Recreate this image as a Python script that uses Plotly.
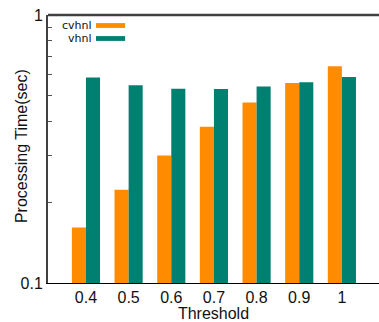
import plotly.graph_objects as go

thresholds = ["0.4", "0.5", "0.6", "0.7", "0.8", "0.9", "1"]
cvhnl = [0.161, 0.223, 0.299, 0.383, 0.472, 0.558, 0.644]
vhnl = [0.585, 0.547, 0.531, 0.530, 0.541, 0.561, 0.587]
series_names = ["cvhnl", "vhnl"]
colors = ["#FF8C00", "#008070"]
minor_ticks = [0.2, 0.3, 0.4, 0.5, 0.6, 0.7, 0.8, 0.9]

font = "Liberation Sans, Arial, sans-serif"

fig = go.Figure()
for name, vals, c in zip(series_names, [cvhnl, vhnl], colors):
    fig.add_trace(go.Bar(x=thresholds, y=vals, name=name, marker=dict(color=c, line=dict(width=0)),
                         showlegend=False))

fig.update_layout(
    width=379, height=322,
    margin=dict(l=48, r=0, t=15, b=39),
    paper_bgcolor="white", plot_bgcolor="white",
    barmode="group", bargap=0.34, bargroupgap=0,
    font=dict(family=font, size=16, color="#111"),
    xaxis=dict(type="category", range=[-0.89, 6.87], showline=True, linecolor="black", linewidth=1.3,
               ticks="", showgrid=False, zeroline=False,
               title=dict(text="Threshold", font=dict(size=16), standoff=2),
               tickfont=dict(size=16)),
    yaxis=dict(type="log", range=[-1, 0], showline=True, linecolor="#404040", linewidth=2,
               tickvals=[0.1, 1], ticktext=["0.1", "1"], ticks="", showgrid=False, zeroline=False,
               minor=dict(tickvals=minor_ticks, ticks="inside", ticklen=4, tickcolor="#555", tickwidth=1, showgrid=False),
               tickfont=dict(size=16)),
)

# y-axis title placed close to the axis, as in the reference
fig.add_annotation(xref="paper", yref="paper", x=-0.080, y=0.509, text="Processing Time(sec)",
                   textangle=-90, showarrow=False, xanchor="center", yanchor="middle",
                   font=dict(size=16, color="#111", family=font))

# top frame line
fig.add_shape(type="line", xref="paper", yref="paper", x0=0, x1=1, y0=1, y1=1,
              line=dict(color="#404040", width=2.5))

# legend (text left of swatch)
leg_y = [0.9608, 0.9123]
for name, c, yy in zip(series_names, colors, leg_y):
    fig.add_annotation(xref="paper", yref="paper", x=0.136, y=yy, text=name, showarrow=False,
                       xanchor="right", yanchor="middle",
                       font=dict(size=11, color="#111", family="DejaVu Sans, sans-serif"),
                       borderpad=0)
    fig.add_shape(type="rect", xref="paper", yref="paper", x0=0.145, x1=0.233, y0=yy - 0.009, y1=yy + 0.009,
                  line=dict(width=0), fillcolor=c)

fig.write_html("out.html")
